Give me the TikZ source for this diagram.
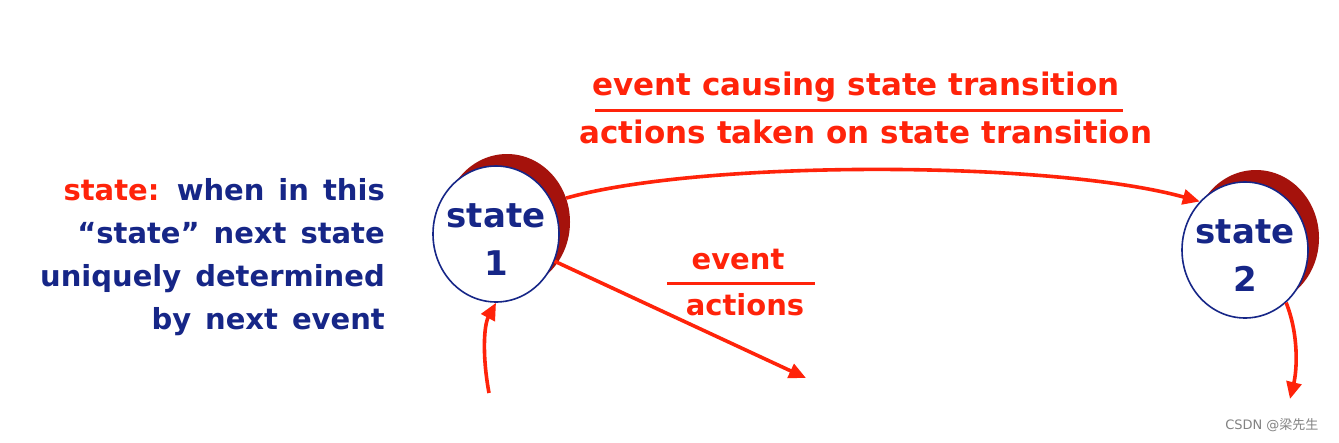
\documentclass[tikz,border=0pt]{standalone}
\usepackage{fontspec}
\setmainfont{DejaVu Sans}
\newfontfamily\cjk{Noto Sans CJK SC}
\usetikzlibrary{arrows.meta,shapes.geometric}
\definecolor{myred}{RGB}{255,35,10}
\definecolor{navy}{RGB}{22,38,135}
\definecolor{shadowred}{RGB}{165,18,12}
\definecolor{wmgray}{RGB}{130,130,130}
\tikzset{
  stateshape/.style={ellipse, minimum width=126pt, minimum height=136pt, inner sep=0pt},
  statebox/.style={stateshape, draw=navy, line width=1.6pt, fill=white},
  statetext/.style={text=navy, align=center, yshift=-6pt, font={\bfseries\fontsize{34}{48}\selectfont}},
  stateshadow/.style={stateshape, fill=shadowred},
  redarrow/.style={draw=myred, line width=3.6pt, -{Triangle[length=17pt,width=15pt]}},
  redlabel/.style={text=myred, font={\bfseries\fontsize{31}{34}\selectfont}, inner sep=0pt},
  smalllabel/.style={text=myred, font={\bfseries\fontsize{29}{34}\selectfont}, inner sep=0pt},
  fracline/.style={draw=myred, line width=3pt},
  desc/.style={text=navy, align=right, inner sep=0pt,
    font={\bfseries\fontsize{29}{43}\selectfont\spaceskip=14pt plus 2pt minus 2pt\relax}}
}
\begin{document}
\begin{tikzpicture}[x=1pt,y=-1pt]
\useasboundingbox[fill=white] (0,0) rectangle (1339,442);
% states
\node[stateshadow] (sh1) at (507,222) {};
\node[statebox, label={[statetext]center:state\\1}] (s1) at (496,234) {};
\node[stateshadow] (sh2) at (1256,238) {};
\node[statebox, label={[statetext]center:state\\2}] (s2) at (1245,250) {};
% description
\node[desc, anchor=north east] (d) at (385,178) {\textcolor{myred}{state:} when in this\\``state'' next state\\uniquely determined\\by next event};
% top label
\node[redlabel] (ev1) at (856,87) {event causing state transition};
\node[redlabel] (ac1) at (866,132) {actions taken on state transition};
\draw[fracline] (595,110) -- (1123,110);
% small label
\node[smalllabel] (ev2) at (738,260) {event};
\node[smalllabel] (ac2) at (745,305) {actions};
\draw[fracline] (667,283) -- (815,283);
% arrows
\coordinate (e2) at (806,378);
\coordinate (in3) at (489,393);
\coordinate (out4) at (1290,399);
\draw[redarrow] (sh1.22) .. controls (700,160) and (1050,160) .. (s2.133);
\draw[redarrow] (s1) -- (e2);
\draw[redarrow] (in3) .. controls (482,355) and (484,325) .. (s1.south);
\draw[redarrow] (s2.-52) .. controls (1299,335) and (1297,370) .. (out4);
% watermark
\node[text=wmgray, font={\fontsize{13}{15}\selectfont}, anchor=east] (wm) at (1322,425) {CSDN @{\cjk 梁先生}};
\end{tikzpicture}
\end{document}
